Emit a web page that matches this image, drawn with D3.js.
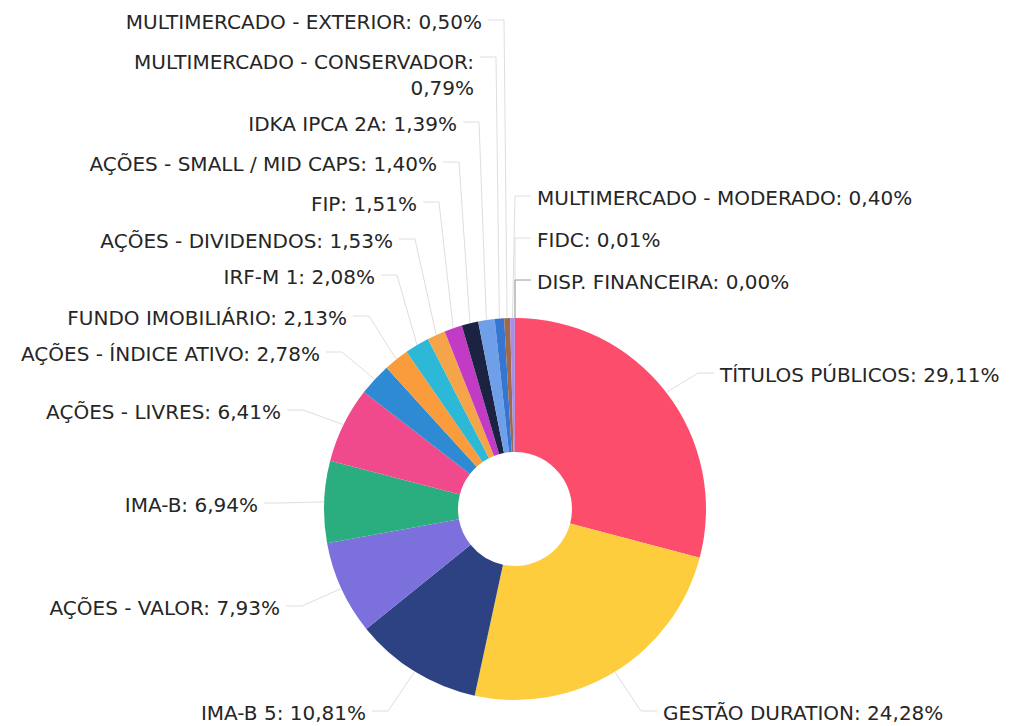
<!DOCTYPE html>
<html>
<head>
<meta charset="utf-8">
<script src="https://cdn.jsdelivr.net/npm/d3@7"></script>
<style>
  html, body { margin: 0; padding: 0; background: #fff; }
  svg { display: block; }
</style>
</head>
<body>
<svg id="chart" width="1009" height="726"></svg>
<script>
// ---- data ----
const categories = [
  "TÍTULOS PÚBLICOS", "GESTÃO DURATION", "IMA-B 5", "AÇÕES - VALOR", "IMA-B",
  "AÇÕES - LIVRES", "AÇÕES - ÍNDICE ATIVO", "FUNDO IMOBILIÁRIO", "IRF-M 1",
  "AÇÕES - DIVIDENDOS", "FIP", "AÇÕES - SMALL / MID CAPS", "IDKA IPCA 2A",
  "MULTIMERCADO - CONSERVADOR", "MULTIMERCADO - EXTERIOR", "MULTIMERCADO - MODERADO",
  "FIDC", "DISP. FINANCEIRA"
];
const values = [29.11, 24.28, 10.81, 7.93, 6.94, 6.41, 2.78, 2.13, 2.08, 1.53, 1.51, 1.40, 1.39, 0.79, 0.50, 0.40, 0.01, 0.00];
const colors = [
  "#fc4e6c", "#fdcd3e", "#2c4283", "#7b70dc", "#2bae7f",
  "#f14a8c", "#2e8ad2", "#fa9c3c", "#2cb8d6",
  "#f5a44a", "#c23bc4", "#1c2241", "#6e9fe8",
  "#3577d0", "#a0694e", "#a58fea", "#e08a6a", "#888888"
];

// ---- label layout (positions only) ----
// side: 1 = right of elbow, -1 = left; x = text anchor x, y = text centre y
const labelLayout = [
  {side: 1,  x: 720, y: 375},
  {side: 1,  x: 663, y: 713},
  {side: -1, x: 366, y: 713},
  {side: -1, x: 280, y: 608},
  {side: -1, x: 258, y: 505},
  {side: -1, x: 281, y: 412},
  {side: -1, x: 320, y: 354},
  {side: -1, x: 347, y: 318},
  {side: -1, x: 375, y: 277},
  {side: -1, x: 393, y: 241},
  {side: -1, x: 417, y: 204},
  {side: -1, x: 437, y: 164},
  {side: -1, x: 457, y: 124},
  {side: -1, x: 474, y: 62, wrap: true},
  {side: -1, x: 482, y: 22},
  {side: 1,  x: 537, y: 198},
  {side: 1,  x: 537, y: 240},
  {side: 1,  x: 537, y: 282}
];

const fmt = v => v.toFixed(2).replace(".", ",") + "%";

const svg = d3.select("#chart");
const cx = 515, cy = 509, outerR = 191, innerR = 57;

const pie = d3.pie().sort(null).value(d => d.value);
const arcs = pie(categories.map((c, i) => ({name: c, value: values[i], color: colors[i], layout: labelLayout[i]})));
const arc = d3.arc().innerRadius(innerR).outerRadius(outerR);

const g = svg.append("g").attr("transform", `translate(${cx},${cy})`);

g.selectAll("path.slice")
  .data(arcs)
  .join("path")
  .attr("class", "slice")
  .attr("d", arc)
  .attr("fill", d => d.data.color);

// leader lines
const lines = svg.append("g");
arcs.forEach(d => {
  const mid = (d.startAngle + d.endAngle) / 2;
  const px = cx + outerR * Math.sin(mid);
  const py = cy - outerR * Math.cos(mid);
  const L = d.data.layout;
  const ly = L.y - 2 - (L.wrap ? 3 : 0);
  const ex = L.x - L.side * 22;
  const tx = L.x - L.side * 6;
  lines.append("path")
    .attr("d", d3.line()([[px, py], [ex, ly], [tx, ly]]))
    .attr("fill", "none")
    .attr("stroke", d.data.value === 0 ? "#9a9a9a" : "#dedede")
    .attr("stroke-width", 1);
});

// labels
const labels = svg.append("g")
  .attr("font-family", "'DejaVu Sans', sans-serif")
  .attr("font-size", 20)
  .attr("fill", "#262626");

arcs.forEach(d => {
  const L = d.data.layout;
  const t = labels.append("text")
    .attr("x", L.x)
    .attr("y", L.y)
    .attr("dy", "0.36em")
    .attr("text-anchor", L.side === 1 ? "start" : "end");
  if (L.wrap) {
    t.append("tspan").attr("x", L.x).text(d.data.name + ":");
    t.append("tspan").attr("x", L.x).attr("dy", 26).text(fmt(d.data.value));
  } else {
    t.text(d.data.name + ": " + fmt(d.data.value));
  }
});
</script>
</body>
</html>
